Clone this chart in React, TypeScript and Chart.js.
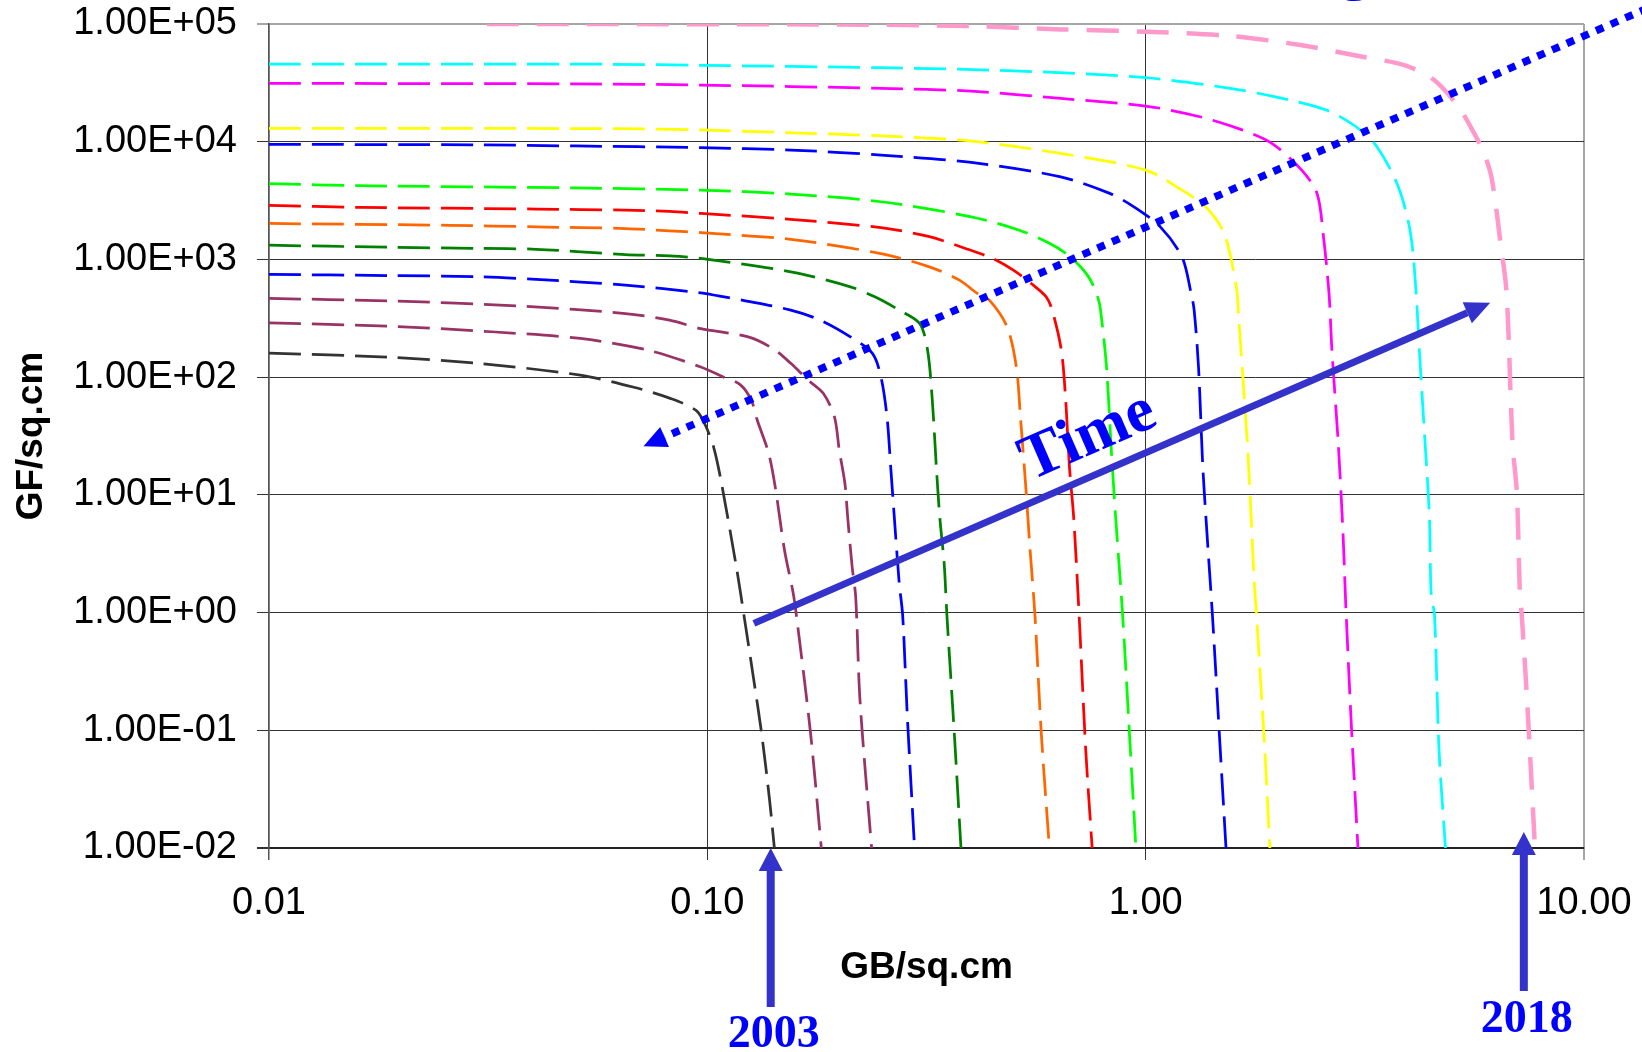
import React, { useEffect, useRef } from "react";
import { Chart, registerables } from "chart.js";

Chart.register(...registerables);

// ---- axis ticks ----
const X_TICKS = [0.01, 0.1, 1, 10];
const Y_TICKS = [1e-2, 1e-1, 1e0, 1e1, 1e2, 1e3, 1e4, 1e5];

// ---- series values (GB/sq.cm -> GF/sq.cm) ----
const blackX = [0.01, 0.0187, 0.03, 0.0513, 0.068, 0.0823, 0.0944, 0.099, 0.1035, 0.1077, 0.1165, 0.121, 0.1274, 0.133, 0.1387, 0.1422];
const blackY = [160, 148, 131, 104, 82, 66, 52, 39, 25, 12.6, 2.43, 0.99, 0.28, 0.094, 0.0254, 0.01];

const maroonLowX = [0.01, 0.0187, 0.0322, 0.0513, 0.073, 0.0966, 0.109, 0.119, 0.126, 0.13, 0.138, 0.143, 0.15, 0.157, 0.16, 0.172, 0.182];
const maroonLowY = [289, 271, 243, 213, 170, 122, 100, 86, 63.7, 43, 22.6, 11.4, 3.38, 1.46, 0.89, 0.094, 0.01];

const maroonHighX = [0.01, 0.0187, 0.0379, 0.065, 0.082, 0.0966, 0.124, 0.141, 0.155, 0.17, 0.184, 0.195, 0.2, 0.206, 0.209, 0.214, 0.218, 0.223, 0.237];
const maroonHighY = [466, 445, 401, 347, 305, 258, 220, 175, 131, 94, 72.6, 45.9, 23.9, 12.5, 6.5, 2.44, 1.36, 0.179, 0.01];

const blueLowX = [0.01, 0.0187, 0.03, 0.0407, 0.065, 0.0966, 0.106, 0.12, 0.155, 0.181, 0.212, 0.238, 0.249, 0.257, 0.262, 0.267, 0.274, 0.279, 0.286, 0.297];
const blueLowY = [745, 730, 712, 676, 605, 520, 490, 451, 371, 305, 220, 159, 100, 45.9, 17.3, 6.5, 1.78, 0.95, 0.129, 0.01];

const darkGreenX = [0.01, 0.0187, 0.03, 0.0407, 0.065, 0.082, 0.0966, 0.155, 0.212, 0.241, 0.274, 0.305, 0.318, 0.326, 0.333, 0.339, 0.347, 0.352, 0.366, 0.379];
const darkGreenY = [1320, 1270, 1240, 1220, 1100, 1070, 1020, 785, 585, 481, 371, 286, 170, 63.7, 17.3, 6.5, 2.6, 0.95, 0.0935, 0.01];

const orangeX = [0.01, 0.0258, 0.0407, 0.065, 0.082, 0.0966, 0.155, 0.249, 0.321, 0.376, 0.413, 0.44, 0.483, 0.507, 0.518, 0.532, 0.545, 0.559, 0.578, 0.603];
const orangeY = [2020, 1950, 1890, 1830, 1750, 1690, 1480, 1120, 865, 667, 514, 451, 267, 122, 45.9, 12.5, 3.38, 0.95, 0.0935, 0.01];

const redX = [0.01, 0.0161, 0.0407, 0.065, 0.082, 0.0966, 0.155, 0.249, 0.321, 0.388, 0.447, 0.499, 0.548, 0.593, 0.612, 0.642, 0.657, 0.67, 0.685, 0.705, 0.73, 0.755];
const redY = [2880, 2770, 2680, 2620, 2560, 2460, 2190, 1860, 1560, 1240, 1020, 811, 625, 481, 371, 170, 63.7, 17.3, 6.5, 0.95, 0.0675, 0.01];

const limeX = [0.01, 0.0161, 0.05, 0.0966, 0.155, 0.249, 0.4, 0.515, 0.603, 0.674, 0.741, 0.777, 0.789, 0.814, 0.835, 0.854, 0.886, 0.923, 0.95];
const limeY = [4400, 4230, 4050, 3880, 3590, 3090, 2300, 1770, 1370, 1050, 711, 481, 371, 122, 23.9, 6.5, 0.95, 0.0675, 0.01];

const blueHighX = [0.01, 0.03, 0.05, 0.0966, 0.155, 0.249, 0.4, 0.64, 0.828, 0.94, 1.08, 1.21, 1.27, 1.29, 1.32, 1.35, 1.38, 1.42, 1.48, 1.525];
const blueHighY = [9500, 9400, 9200, 8900, 8500, 7700, 6670, 5030, 3640, 2800, 1890, 1050, 514, 371, 122, 17.3, 4.7, 0.95, 0.0675, 0.01];

const yellowX = [0.01, 0.06, 0.0966, 0.155, 0.249, 0.4, 0.64, 1.0, 1.21, 1.37, 1.51, 1.61, 1.63, 1.67, 1.71, 1.74, 1.77, 1.79, 1.87, 1.92];
const yellowY = [13000, 12900, 12600, 11900, 11200, 10100, 7950, 5740, 3880, 2800, 1660, 585, 325, 88, 23.9, 6.5, 1.77, 0.95, 0.0675, 0.01];

const magentaX = [0.01, 0.05, 0.0966, 0.249, 0.4, 0.64, 1.0, 1.33, 1.66, 1.94, 2.27, 2.46, 2.54, 2.62, 2.66, 2.75, 2.82, 2.86, 2.94, 3.05];
const magentaY = [31300, 31000, 30300, 28400, 26900, 23300, 20100, 16300, 12600, 9700, 5740, 3640, 1660, 514, 170, 27.5, 4.7, 1.2, 0.129, 0.01];

const cyanX = [0.01, 0.06, 0.0966, 0.249, 0.5, 1.0, 1.56, 2.0, 2.58, 3.02, 3.37, 3.77, 4.02, 4.14, 4.21, 4.34, 4.44, 4.48, 4.56, 4.67, 4.83];
const cyanY = [45700, 45500, 44600, 42500, 40000, 35000, 28400, 23800, 18600, 13400, 9060, 4140, 1670, 518, 170, 27.5, 6.5, 1.46, 0.95, 0.0675, 0.01];

const pinkX = [0.0314, 0.2, 0.4, 0.64, 1.0, 1.56, 2.27, 3.12, 3.89, 4.55, 5.17, 5.51, 5.87, 6.15, 6.45, 6.66, 6.87, 7.03, 7.14, 7.21, 7.41, 7.73];
const pinkY = [100000, 99000, 96000, 90000, 86000, 79000, 66000, 52700, 44700, 33400, 19800, 13400, 8500, 5000, 1380, 516, 27.5, 10.3, 1.46, 0.95, 0.19, 0.01];

// ---- annotation anchors (data space) ----
const TIME_ARROW_FROM = { x: 0.1277, y: 0.81 };
const TIME_ARROW_TO = { x: 6.11, y: 428 };
const TIME_LABEL_AT = { x: 0.74, y: 30.7 };
const TREND_FROM = { x: 15.07, y: 1.54e5 };
const TREND_TO = { x: 0.0715, y: 25.9 };
const YEAR_2003_X = 0.1395;
const YEAR_2018_X = 7.29;

// ---- styles (kept apart from values) ----
const THIN = 2.75;
const THIN_DASH = [32, 11];
const SERIES = [
  { x: blackX, y: blackY, color: "#333333", width: THIN, dash: THIN_DASH },
  { x: maroonLowX, y: maroonLowY, color: "#993366", width: THIN, dash: THIN_DASH },
  { x: maroonHighX, y: maroonHighY, color: "#993366", width: THIN, dash: THIN_DASH },
  { x: blueLowX, y: blueLowY, color: "#0000ff", width: THIN, dash: THIN_DASH },
  { x: darkGreenX, y: darkGreenY, color: "#008000", width: THIN, dash: THIN_DASH },
  { x: orangeX, y: orangeY, color: "#ff6600", width: THIN, dash: THIN_DASH },
  { x: redX, y: redY, color: "#ff0000", width: THIN, dash: THIN_DASH },
  { x: limeX, y: limeY, color: "#00ff00", width: THIN, dash: THIN_DASH },
  { x: blueHighX, y: blueHighY, color: "#0000ff", width: THIN, dash: THIN_DASH },
  { x: yellowX, y: yellowY, color: "#ffff00", width: THIN, dash: THIN_DASH },
  { x: magentaX, y: magentaY, color: "#ff00ff", width: THIN, dash: THIN_DASH },
  { x: cyanX, y: cyanY, color: "#00ffff", width: THIN, dash: THIN_DASH },
  { x: pinkX, y: pinkY, color: "#ff99cc", width: 4.5, dash: [32, 18] },
];

const W = 1642;
const H = 1052;
const PLOT_BOTTOM = 848;
const SANS = '"Liberation Sans", Arial, sans-serif';
const SERIF = '"Liberation Serif", "Times New Roman", serif';

function drawArrow(
  ctx: CanvasRenderingContext2D,
  x0: number, y0: number, x1: number, y1: number,
  color: string, width: number, headLen: number, headW: number, dash?: number[]
) {
  const ang = Math.atan2(y1 - y0, x1 - x0);
  const bx = x1 - headLen * Math.cos(ang);
  const by = y1 - headLen * Math.sin(ang);
  ctx.save();
  ctx.strokeStyle = color;
  ctx.lineWidth = width;
  ctx.lineCap = "butt";
  ctx.setLineDash(dash || []);
  ctx.beginPath();
  ctx.moveTo(x0, y0);
  ctx.lineTo(bx, by);
  ctx.stroke();
  ctx.setLineDash([]);
  const nx = -Math.sin(ang);
  const ny = Math.cos(ang);
  ctx.fillStyle = color;
  ctx.beginPath();
  ctx.moveTo(x1, y1);
  ctx.lineTo(bx + (nx * headW) / 2, by + (ny * headW) / 2);
  ctx.lineTo(bx - (nx * headW) / 2, by - (ny * headW) / 2);
  ctx.closePath();
  ctx.fill();
  ctx.restore();
}

const annotationPlugin = {
  id: "annotations",
  afterDraw(chart: any) {
    const { ctx, scales, chartArea } = chart;
    const px = (v: number) => scales.x.getPixelForValue(v);
    const py = (v: number) => scales.y.getPixelForValue(v);
    const bottom = chartArea.bottom;

    // dotted trend arrow
    drawArrow(ctx, px(TREND_FROM.x), py(TREND_FROM.y), px(TREND_TO.x), py(TREND_TO.y),
      "#0000ff", 7.5, 23, 22, [8, 8]);

    // cut-off heading glyph at the very top
    ctx.save();
    ctx.fillStyle = "#0000ff";
    ctx.font = "bold 64px " + SERIF;
    ctx.textAlign = "center";
    ctx.textBaseline = "alphabetic";
    ctx.fillText("g", 1355, -13);
    ctx.restore();

    // Time arrow
    const ax0 = px(TIME_ARROW_FROM.x), ay0 = py(TIME_ARROW_FROM.y);
    const ax1 = px(TIME_ARROW_TO.x), ay1 = py(TIME_ARROW_TO.y);
    drawArrow(ctx, ax0, ay0, ax1, ay1, "#3333cc", 7, 25, 23);
    const ang = Math.atan2(ay1 - ay0, ax1 - ax0);
    ctx.save();
    ctx.translate(px(TIME_LABEL_AT.x), py(TIME_LABEL_AT.y));
    ctx.rotate(ang);
    ctx.fillStyle = "#0000ff";
    ctx.font = "bold 64px " + SERIF;
    ctx.textAlign = "center";
    ctx.textBaseline = "middle";
    ctx.fillText("Time", 0, 0);
    ctx.restore();

    // year arrows
    const yr = (xv: number, tipOff: number, baseOff: number, textOff: number, label: string) => {
      const x = px(xv);
      drawArrow(ctx, x, bottom + baseOff, x, bottom + tipOff, "#3333cc", 8, 23, 24);
      ctx.save();
      ctx.fillStyle = "#0000ff";
      ctx.font = "bold 46px " + SERIF;
      ctx.textAlign = "center";
      ctx.textBaseline = "alphabetic";
      ctx.fillText(label, x + 3, bottom + textOff);
      ctx.restore();
    };
    yr(YEAR_2003_X, 0, 159, 199, "2003");
    yr(YEAR_2018_X, -16, 143, 184, "2018");
  },
};

function yLabel(v: number) {
  const e = Math.round(Math.log10(v));
  return "1.00E" + (e < 0 ? "-" : "+") + String(Math.abs(e)).padStart(2, "0");
}

export default function App() {
  const ref = useRef<HTMLCanvasElement | null>(null);

  useEffect(() => {
    document.body.style.margin = "0";
    if (!ref.current) return;
    const datasets = SERIES.map((s) => ({
      data: s.x.map((xv, i) => ({ x: xv, y: s.y[i] })),
      showLine: true,
      borderColor: s.color,
      backgroundColor: s.color,
      borderWidth: s.width,
      borderDash: s.dash,
      pointRadius: 0,
      pointHoverRadius: 0,
      fill: false,
      tension: 0.3,
      clip: 0,
    }));

    const chart = new Chart(ref.current, {
      type: "scatter",
      data: { datasets },
      options: {
        responsive: false,
        animation: false,
        devicePixelRatio: 1,
        events: [],
        layout: { padding: { left: 0, right: 58, top: 24, bottom: 0 } },
        plugins: { legend: { display: false }, tooltip: { enabled: false } },
        scales: {
          x: {
            type: "logarithmic",
            position: "bottom",
            min: 0.01,
            max: 10,
            afterBuildTicks: (s: any) => {
              s.ticks = X_TICKS.map((v) => ({ value: v }));
            },
            afterFit: (s: any) => {
              s.height = H - PLOT_BOTTOM;
              s.paddingLeft = 0;
              s.paddingRight = 0;
            },
            ticks: {
              autoSkip: false,
              maxRotation: 0,
              minRotation: 0,
              padding: 21,
              color: "#000",
              font: { family: SANS, size: 38 },
              callback: (v: any) => Number(v).toFixed(2),
            },
            grid: {
              drawTicks: true,
              tickLength: 12,
              color: (c: any) => (c.tick && c.tick.value === 10 ? "#a6a6a6" : c.tick && c.tick.value === 0.01 ? "#555555" : "#333333"),
              lineWidth: (c: any) => (c.tick && c.tick.value === 10 ? 2 : c.tick && c.tick.value === 0.01 ? 1.5 : 1),
            },
            border: { display: true, color: "#222222", width: 2 },
            title: {
              display: true,
              text: "GB/sq.cm",
              color: "#000",
              font: { family: SANS, size: 37, weight: "bold" },
              padding: { top: 0, bottom: 62 },
            },
          },
          y: {
            type: "logarithmic",
            position: "left",
            min: 0.01,
            max: 100000,
            afterBuildTicks: (s: any) => {
              s.ticks = Y_TICKS.map((v) => ({ value: v }));
            },
            afterFit: (s: any) => {
              s.width = 269;
              s.paddingTop = 0;
              s.paddingBottom = 0;
            },
            ticks: {
              autoSkip: false,
              padding: 20,
              color: "#000",
              font: { family: SANS, size: 38 },
              callback: (v: any) => yLabel(Number(v)),
            },
            grid: {
              drawTicks: true,
              tickLength: 12,
              color: (c: any) => (c.tick && c.tick.value === 100000 ? "#a6a6a6" : "#333333"),
              lineWidth: (c: any) => (c.tick && (c.tick.value === 100000 || c.tick.value === 0.01) ? 2 : 1),
            },
            border: { display: true, color: "#555555", width: 1.5 },
            title: {
              display: true,
              text: "GF/sq.cm",
              color: "#000",
              font: { family: SANS, size: 37, weight: "bold" },
              padding: { top: 10, bottom: 0 },
            },
          },
        },
      },
      plugins: [annotationPlugin],
    } as any);

    return () => chart.destroy();
  }, []);

  return (
    <div style={{ position: "absolute", left: 0, top: 0, width: W, height: H, background: "#fff" }}>
      <canvas ref={ref} width={W} height={H} style={{ display: "block", width: W, height: H }} />
    </div>
  );
}
